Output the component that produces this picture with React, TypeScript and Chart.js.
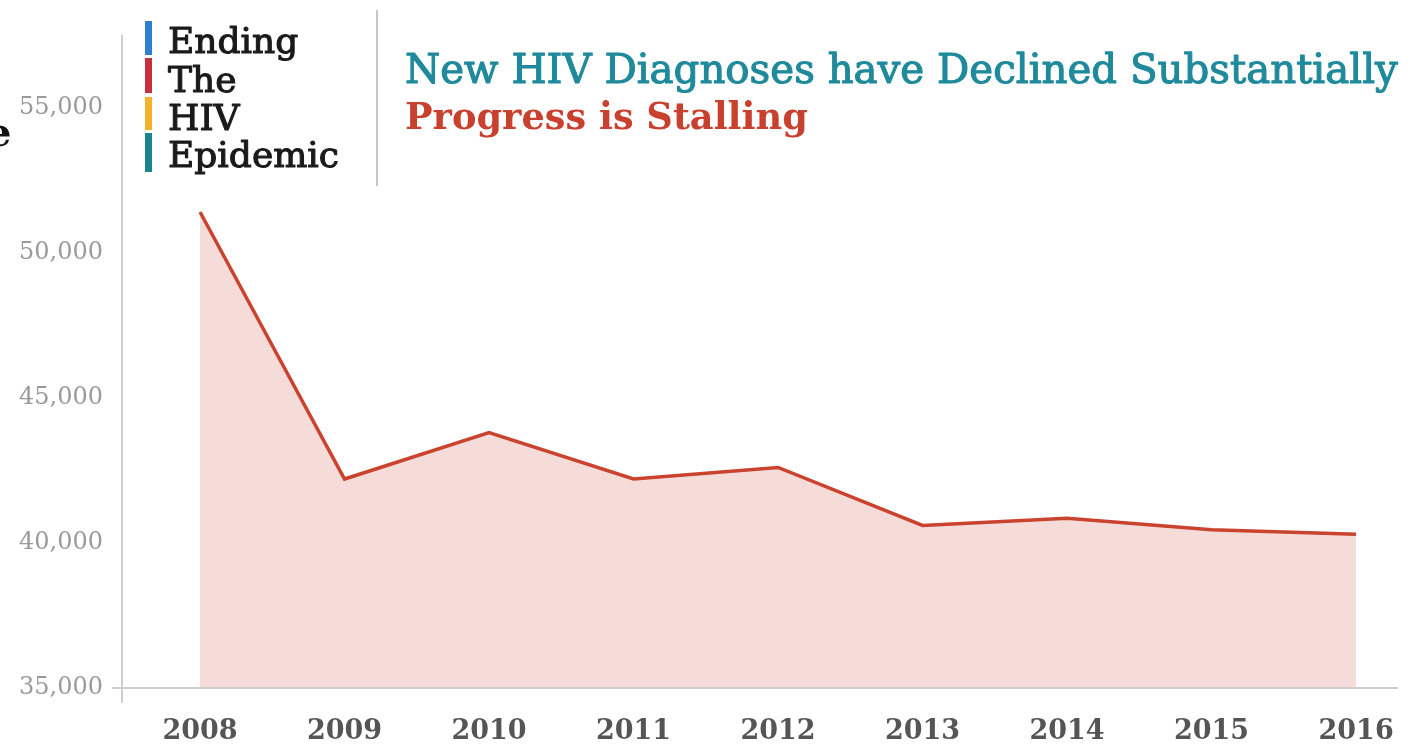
import React, { useEffect, useRef } from "react";
import { Chart, registerables } from "chart.js";

Chart.register(...registerables);

const years = [2008, 2009, 2010, 2011, 2012, 2013, 2014, 2015, 2016];
const diagnoses = [51400, 42200, 43800, 42200, 42600, 40600, 40850, 40450, 40300];
const yTicks = [35000, 40000, 45000, 50000, 55000];
const logoWords = ["Ending", "The", "HIV", "Epidemic"];
const logoColors = ["#2f7fd0", "#c7313f", "#f6b02a", "#17868f"];
const titleLine1 = "New HIV Diagnoses have Declined Substantially";
const titleLine2 = "Progress is Stalling";

const SERIF = '"DejaVu Serif", serif';

function fitFont(ctx: CanvasRenderingContext2D, text: string, weight: string, target: number) {
  ctx.font = `${weight} 100px ${SERIF}`;
  const w = ctx.measureText(text).width;
  const size = (100 * target) / w;
  return `${weight} ${size.toFixed(2)}px ${SERIF}`;
}

function heavyText(ctx: CanvasRenderingContext2D, text: string, x: number, y: number, color: string, stroke: number) {
  ctx.fillStyle = color;
  ctx.strokeStyle = color;
  ctx.lineWidth = stroke;
  ctx.lineJoin = "round";
  ctx.fillText(text, x, y);
  if (stroke > 0) ctx.strokeText(text, x, y);
}

const decorPlugin = {
  id: "decor",
  afterDraw(chart: any) {
    const ctx: CanvasRenderingContext2D = chart.ctx;
    const area = chart.chartArea;
    ctx.save();
    // axis lines
    ctx.strokeStyle = "#cfcfcf";
    ctx.lineWidth = 2;
    ctx.beginPath();
    ctx.moveTo(area.left, area.top);
    ctx.lineTo(area.left, area.bottom + 15);
    ctx.moveTo(area.left - 10, area.bottom);
    ctx.lineTo(area.right, area.bottom);
    ctx.stroke();

    // separator
    ctx.strokeStyle = "#b5b5b5";
    ctx.lineWidth = 1.5;
    ctx.beginPath();
    ctx.moveTo(377, 10);
    ctx.lineTo(377, 186);
    ctx.stroke();

    // logo bars
    const bars = [
      [21, 55],
      [58, 93],
      [97, 130],
      [133, 172],
    ];
    bars.forEach((b, i) => {
      ctx.fillStyle = logoColors[i];
      ctx.fillRect(145, b[0], 7, b[1] - b[0]);
    });
    // logo words
    ctx.textAlign = "left";
    ctx.textBaseline = "alphabetic";
    ctx.font = fitFont(ctx, "Epidemic", "normal", 171);
    const baselines = [53, 92, 130, 167];
    logoWords.forEach((w, i) => {
      heavyText(ctx, w, 168, baselines[i], "#1a1a1a", 1.1);
    });

    // titles
    ctx.font = fitFont(ctx, titleLine1, "normal", 993);
    heavyText(ctx, titleLine1, 405, 83, "#1f8a9b", 1.1);
    ctx.font = fitFont(ctx, titleLine2, "bold", 403);
    heavyText(ctx, titleLine2, 405, 129, "#c8402e", 0);

    // clipped fragment at the left edge
    ctx.font = `bold 40px ${SERIF}`;
    heavyText(ctx, "e", -14, 146, "#111", 0);
    ctx.restore();
  },
};

export default function App() {
  const ref = useRef<HTMLCanvasElement | null>(null);

  useEffect(() => {
    document.body.style.margin = "0";
    const canvas = ref.current;
    if (!canvas) return;
    const chart = new Chart(canvas, {
      type: "line",
      data: {
        datasets: [
          {
            data: years.map((y, i) => ({ x: y, y: diagnoses[i] })),
            borderColor: "#c9432f",
            backgroundColor: "rgba(240, 196, 192, 0.6)",
            borderWidth: 3.5,
            fill: "start",
            pointRadius: 0,
            tension: 0,
          },
        ],
      },
      options: {
        animation: false,
        responsive: false,
        maintainAspectRatio: false,
        devicePixelRatio: 1,
        layout: { padding: { left: 0, top: 35, right: 13, bottom: 0 } },
        plugins: {
          legend: { display: false },
          tooltip: { enabled: false },
          title: { display: false },
        },
        scales: {
          x: {
            type: "linear",
            min: 2007.46,
            max: 2016.29,
            grid: { display: false, drawTicks: false },
            border: { display: false },
            afterBuildTicks: (scale: any) => {
              scale.ticks = years.map((v) => ({ value: v }));
            },
            afterFit: (scale: any) => {
              scale.height = 57;
              scale.paddingLeft = 0;
              scale.paddingRight = 0;
            },
            ticks: {
              autoSkip: false,
              maxRotation: 0,
              padding: 28,
              color: "#555555",
              font: { family: SERIF, size: 27, weight: "bold" },
              callback: (v: any) => String(v),
            },
          },
          y: {
            min: 35000,
            max: 57500,
            grid: { display: false, drawTicks: false },
            border: { display: false },
            afterBuildTicks: (scale: any) => {
              scale.ticks = yTicks.map((v) => ({ value: v }));
            },
            afterFit: (scale: any) => {
              scale.width = 122;
              scale.paddingTop = 0;
              scale.paddingBottom = 0;
            },
            ticks: {
              padding: 19,
              color: "#9a9a9a",
              font: { family: SERIF, size: 24 },
              callback: (v: any) => Number(v).toLocaleString("en-US"),
            },
          },
        },
      },
      plugins: [decorPlugin],
    });
    return () => chart.destroy();
  }, []);

  return (
    <div style={{ position: "fixed", left: 0, top: 0, width: 1411, height: 745, background: "#fff" }}>
      <canvas ref={ref} width={1411} height={745} style={{ width: 1411, height: 745 }} />
    </div>
  );
}
